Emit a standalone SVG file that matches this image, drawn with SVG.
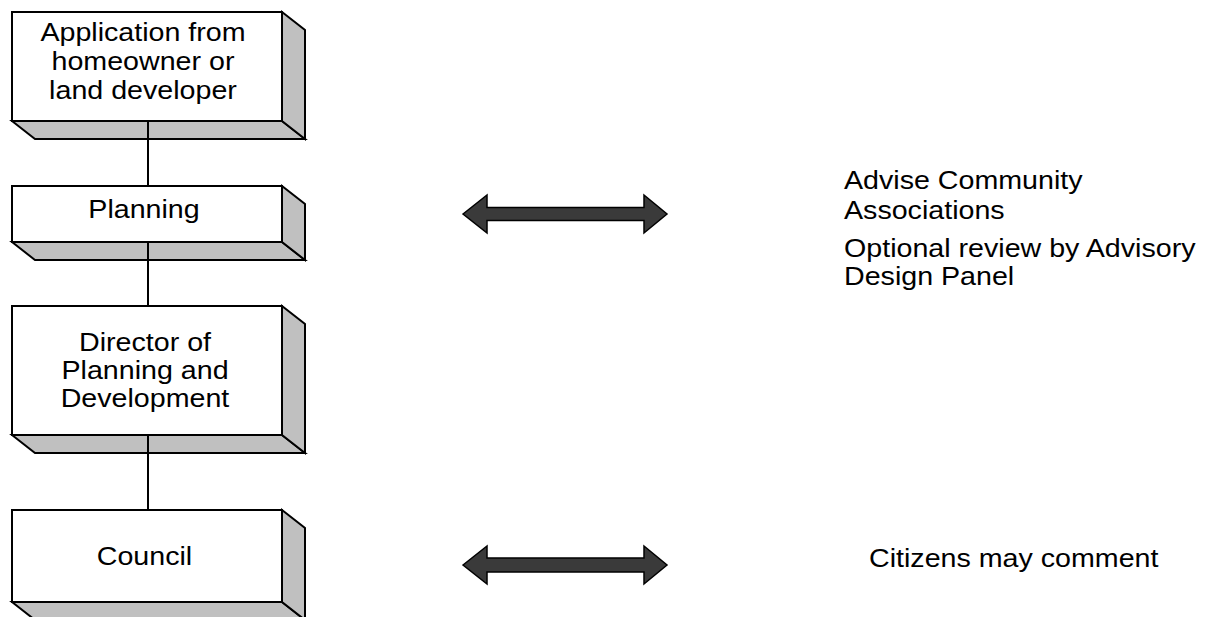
<svg xmlns="http://www.w3.org/2000/svg" width="1206" height="617" viewBox="0 0 1206 617">
  <defs>
    <style>
      .front { fill: #ffffff; stroke: #000000; stroke-width: 2; stroke-linejoin: miter; }
      .side { fill: #c0c0c0; stroke: #000000; stroke-width: 2; stroke-linejoin: miter; }
      .label { font-family: "Liberation Sans", Arial, sans-serif; font-size: 26.5px; fill: #000000; }
      .mid { text-anchor: middle; }
      .link { stroke: #000000; stroke-width: 2; fill: none; }
      .dbl { fill: #3a3a3a; stroke: #000000; stroke-width: 1.5; stroke-linejoin: miter; }
    </style>
  </defs>
  <rect width="1206" height="617" fill="#ffffff"/>

  <!-- extruded boxes: bottom face, right face, then front face -->
  <g id="node-application">
    <polygon class="side" points="12,121 35,139 305,139 282,121"/>
    <polygon class="side" points="282,12 305,30 305,139 282,121"/>
    <rect class="front" x="12" y="12" width="270" height="109"/>
    <g transform="translate(143,0) scale(1.08,1)">
      <text class="label mid" x="0" y="41">Application from</text>
      <text class="label mid" x="0" y="70">homeowner or</text>
      <text class="label mid" x="0" y="99">land developer</text>
    </g>
  </g>

  <g id="node-planning">
    <polygon class="side" points="12,242 35,260 305,260 282,242"/>
    <polygon class="side" points="282,186 305,204 305,260 282,242"/>
    <rect class="front" x="12" y="186" width="270" height="56"/>
    <g transform="translate(144,0) scale(1.08,1)">
      <text class="label mid" x="0" y="218">Planning</text>
    </g>
  </g>

  <g id="node-director">
    <polygon class="side" points="12,435 35,453 305,453 282,435"/>
    <polygon class="side" points="282,306 305,324 305,453 282,435"/>
    <rect class="front" x="12" y="306" width="270" height="129"/>
    <g transform="translate(145,0) scale(1.08,1)">
      <text class="label mid" x="0" y="351">Director of</text>
      <text class="label mid" x="0" y="379">Planning and</text>
      <text class="label mid" x="0" y="407">Development</text>
    </g>
  </g>

  <g id="node-council">
    <polygon class="side" points="12,602 35,620 305,620 282,602"/>
    <polygon class="side" points="282,510 305,528 305,620 282,602"/>
    <rect class="front" x="12" y="510" width="270" height="92"/>
    <g transform="translate(144.5,0) scale(1.08,1)">
      <text class="label mid" x="0" y="565">Council</text>
    </g>
  </g>

  <g id="node-advise">
    <g transform="translate(844,0) scale(1.08,1)">
      <text class="label" x="0" y="189">Advise Community</text>
      <text class="label" x="0" y="219">Associations</text>
      <text class="label" x="0" y="257">Optional review by Advisory</text>
      <text class="label" x="0" y="285">Design Panel</text>
    </g>
  </g>

  <g id="node-citizens">
    <g transform="translate(869,0) scale(1.08,1)">
      <text class="label" x="0" y="567">Citizens may comment</text>
    </g>
  </g>

  <g id="connectors">
    <line class="link" x1="148" y1="121" x2="148" y2="186"/>
    <line class="link" x1="148" y1="242" x2="148" y2="306"/>
    <line class="link" x1="148" y1="435" x2="148" y2="510"/>
    <!-- two-headed block arrows -->
    <polygon class="dbl" points="463,214 487,195 487,207.5 644,207.5 644,195 667,214 644,233 644,220.5 487,220.5 487,233"/>
    <polygon class="dbl" points="463,565 487,546 487,558 644,558 644,546 667,565 644,584 644,572 487,572 487,584"/>
  </g>
</svg>
